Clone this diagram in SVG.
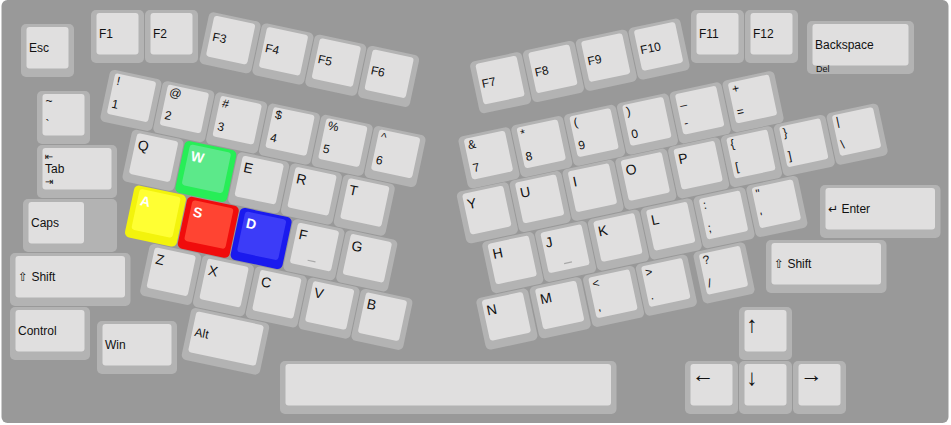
<svg xmlns="http://www.w3.org/2000/svg" width="951" height="425" viewBox="0 0 951 425">
<style>
.o{fill:#b3b3b3}
.i{fill:#e0dfdf}
text{font-family:"Liberation Sans",Arial,"DejaVu Sans",sans-serif;font-size:12px;fill:#111}
.L{font-size:14px}
.wh{fill:#ffffff;font-weight:bold}
.s{font-size:9px}
.ar{font-size:22.5px}
.sym{font-size:10px;font-family:"DejaVu Sans",sans-serif}
.nub{fill:#a8a8a8}
</style>
<defs>
<g id="k1"><rect class="o" width="53" height="53" rx="5"/><rect class="i" x="5.5" y="3" width="42" height="41.5" rx="3"/></g>
<g id="k15"><rect class="o" width="80" height="53" rx="5"/><rect class="i" x="5.5" y="3" width="69" height="41.5" rx="3"/></g>
<g id="k175s"><rect class="o" width="94" height="53" rx="5"/><rect class="i" x="5.5" y="3" width="55.5" height="41.5" rx="3"/></g>
<g id="k2"><rect class="o" width="107" height="53" rx="5"/><rect class="i" x="5.5" y="3" width="96" height="41.5" rx="3"/></g>
<g id="k225"><rect class="o" width="120.5" height="53" rx="5"/><rect class="i" x="5.5" y="3" width="109.5" height="41.5" rx="3"/></g>
<g id="k625"><rect class="o" width="336.5" height="53" rx="5"/><rect class="i" x="5.5" y="3" width="325.5" height="41.5" rx="3"/></g>
</defs>
<rect width="951" height="425" fill="#ffffff"/>
<rect id="board" x="1.5" y="0" width="947" height="423" rx="6" fill="#999999"/>

<g id="keys-fixed">
<g id="key-esc" transform="translate(21,24)"><use href="#k1"/><text x="8" y="27.5">Esc</text></g>
<g id="key-f1" transform="translate(91,10)"><use href="#k1"/><text x="8" y="27.5">F1</text></g>
<g id="key-f2" transform="translate(145,10)"><use href="#k1"/><text x="8" y="27.5">F2</text></g>
<g id="key-f11" transform="translate(691,10)"><use href="#k1"/><text x="8" y="27.5">F11</text></g>
<g id="key-f12" transform="translate(745,10)"><use href="#k1"/><text x="8" y="27.5">F12</text></g>
<g id="key-backspace" transform="translate(807,21)"><use href="#k2"/><text x="8" y="27.5">Backspace</text><text class="s" x="9" y="51">Del</text></g>
<g id="key-tilde" transform="translate(37,91)"><use href="#k1"/><text x="8.5" y="14">~</text><text x="8.5" y="37.5">`</text></g>
<g id="key-tab" transform="translate(37,145)"><use href="#k15"/><text class="sym" x="8" y="15">⇤</text><text x="8" y="27.5">Tab</text><text class="sym" x="8" y="39.5">⇥</text></g>
<g id="key-caps" transform="translate(23,199)"><use href="#k175s"/><text x="8" y="27.5">Caps</text></g>
<g id="key-lshift" transform="translate(10,253)"><use href="#k225"/><text x="8" y="27.5">⇧ Shift</text></g>
<g id="key-control" transform="translate(10,307)"><use href="#k15"/><text x="8" y="27.5">Control</text></g>
<g id="key-win" transform="translate(97,321)"><use href="#k15"/><text x="8" y="27.5">Win</text></g>
<g id="key-enter" transform="translate(820,185)"><use href="#k225"/><text x="8" y="27.5">↵ Enter</text></g>
<g id="key-rshift" transform="translate(766,240)"><use href="#k225"/><text x="8" y="27.5">⇧ Shift</text></g>
<g id="key-space" transform="translate(280,361)"><use href="#k625"/></g>
<g id="key-up" transform="translate(739,307)"><use href="#k1"/><text class="ar" x="7.3" y="24.7">↑</text></g>
<g id="key-left" transform="translate(685,361)"><use href="#k1"/><text class="ar" x="6.7" y="20.7">←</text></g>
<g id="key-down" transform="translate(739,361)"><use href="#k1"/><text class="ar" x="7.3" y="24">↓</text></g>
<g id="key-right" transform="translate(793,361)"><use href="#k1"/><text class="ar" x="7" y="20.7">→</text></g>
</g>

<g id="left-block" transform="rotate(12)">
<g id="key-f3" transform="translate(207.5,-32.5)"><use href="#k1"/><text x="8" y="28">F3</text></g>
<g id="key-f4" transform="translate(261.5,-32.5)"><use href="#k1"/><text x="8" y="28">F4</text></g>
<g id="key-f5" transform="translate(315.5,-32.5)"><use href="#k1"/><text x="8" y="28">F5</text></g>
<g id="key-f6" transform="translate(369.5,-32.5)"><use href="#k1"/><text x="8" y="28">F6</text></g>
<g id="key-1" transform="translate(122.5,44.5)"><use href="#k1"/><text x="8.5" y="14">!</text><text x="8.5" y="37.5">1</text></g>
<g id="key-2" transform="translate(176.5,44.5)"><use href="#k1"/><text x="8.5" y="14">@</text><text x="8.5" y="37.5">2</text></g>
<g id="key-3" transform="translate(230.5,44.5)"><use href="#k1"/><text x="8.5" y="14">#</text><text x="8.5" y="37.5">3</text></g>
<g id="key-4" transform="translate(284.5,44.5)"><use href="#k1"/><text x="8.5" y="14">$</text><text x="8.5" y="37.5">4</text></g>
<g id="key-5" transform="translate(338.5,44.5)"><use href="#k1"/><text x="8.5" y="14">%</text><text x="8.5" y="37.5">5</text></g>
<g id="key-6" transform="translate(392.5,44.5)"><use href="#k1"/><text x="8.5" y="14">^</text><text x="8.5" y="37.5">6</text></g>
<g id="key-q" transform="translate(156.5,98.5)"><use href="#k1"/><text class="L" x="8.6" y="19">Q</text></g>
<g id="key-w" transform="translate(210.5,98.5)"><rect width="53" height="53" rx="5" fill="#27ee57"/><rect x="5.5" y="3" width="42" height="41.5" rx="3" fill="#5ce98a"/><text class="L wh" x="8.6" y="19">W</text></g>
<g id="key-e" transform="translate(264.5,98.5)"><use href="#k1"/><text class="L" x="8.6" y="19">E</text></g>
<g id="key-r" transform="translate(318.5,98.5)"><use href="#k1"/><text class="L" x="8.6" y="19">R</text></g>
<g id="key-t" transform="translate(372.5,98.5)"><use href="#k1"/><text class="L" x="8.6" y="19">T</text></g>
<g id="key-a" transform="translate(170.5,152.5)"><rect width="53" height="53" rx="5" fill="#f3f30c"/><rect x="5.5" y="3" width="42" height="41.5" rx="3" fill="#ffff33"/><text class="L wh" x="8.6" y="19">A</text></g>
<g id="key-s" transform="translate(224.5,152.5)"><rect width="53" height="53" rx="5" fill="#f00c0c"/><rect x="5.5" y="3" width="42" height="41.5" rx="3" fill="#ff4432"/><text class="L wh" x="8.6" y="19">S</text></g>
<g id="key-d" transform="translate(278.5,152.5)"><rect width="53" height="53" rx="5" fill="#1a1aee"/><rect x="5.5" y="3" width="42" height="41.5" rx="3" fill="#3c3cf8"/><text class="L wh" x="8.6" y="19">D</text></g>
<g id="key-f" transform="translate(332.5,152.5)"><use href="#k1"/><text class="L" x="8.6" y="19">F</text><rect class="nub" x="22.5" y="37.5" width="8" height="1.2"/></g>
<g id="key-g" transform="translate(386.5,152.5)"><use href="#k1"/><text class="L" x="8.6" y="19">G</text></g>
<g id="key-z" transform="translate(197.5,206.5)"><use href="#k1"/><text class="L" x="8.6" y="19">Z</text></g>
<g id="key-x" transform="translate(251.5,206.5)"><use href="#k1"/><text class="L" x="8.6" y="19">X</text></g>
<g id="key-c" transform="translate(305.5,206.5)"><use href="#k1"/><text class="L" x="8.6" y="19">C</text></g>
<g id="key-v" transform="translate(359.5,206.5)"><use href="#k1"/><text class="L" x="8.6" y="19">V</text></g>
<g id="key-b" transform="translate(413.5,206.5)"><use href="#k1"/><text class="L" x="8.6" y="19">B</text></g>
<g id="key-alt" transform="translate(251.5,260.5)"><use href="#k15"/><text x="8" y="27.5">Alt</text></g>
</g>

<g id="right-block" transform="rotate(-12)">
<g id="key-f7" transform="translate(446,158.5)"><use href="#k1"/><text x="8" y="28">F7</text></g>
<g id="key-f8" transform="translate(500,158.5)"><use href="#k1"/><text x="8" y="28">F8</text></g>
<g id="key-f9" transform="translate(554,158.5)"><use href="#k1"/><text x="8" y="28">F9</text></g>
<g id="key-f10" transform="translate(608,158.5)"><use href="#k1"/><text x="8" y="28">F10</text></g>
<g id="key-7" transform="translate(419,229.5)"><use href="#k1"/><text x="8.5" y="14">&amp;</text><text x="8.5" y="37.5">7</text></g>
<g id="key-8" transform="translate(473,229.5)"><use href="#k1"/><text x="8.5" y="14">*</text><text x="8.5" y="37.5">8</text></g>
<g id="key-9" transform="translate(527,229.5)"><use href="#k1"/><text x="8.5" y="14">(</text><text x="8.5" y="37.5">9</text></g>
<g id="key-0" transform="translate(581,229.5)"><use href="#k1"/><text x="8.5" y="14">)</text><text x="8.5" y="37.5">0</text></g>
<g id="key-minus" transform="translate(635,229.5)"><use href="#k1"/><text x="8.5" y="14">_</text><text x="8.5" y="37.5">-</text></g>
<g id="key-equal" transform="translate(689,229.5)"><use href="#k1"/><text x="8.5" y="14">+</text><text x="8.5" y="37.5">=</text></g>
<g id="key-y" transform="translate(406,283)"><use href="#k1"/><text class="L" x="8.6" y="19">Y</text></g>
<g id="key-u" transform="translate(460,283)"><use href="#k1"/><text class="L" x="8.6" y="19">U</text></g>
<g id="key-i" transform="translate(514,283)"><use href="#k1"/><text class="L" x="8.6" y="19">I</text></g>
<g id="key-o" transform="translate(568,283)"><use href="#k1"/><text class="L" x="8.6" y="19">O</text></g>
<g id="key-p" transform="translate(622,283)"><use href="#k1"/><text class="L" x="8.6" y="19">P</text></g>
<g id="key-lbracket" transform="translate(676,283)"><use href="#k1"/><text x="8.5" y="14">{</text><text x="8.5" y="37.5">[</text></g>
<g id="key-rbracket" transform="translate(730,283)"><use href="#k1"/><text x="8.5" y="14">}</text><text x="8.5" y="37.5">]</text></g>
<g id="key-backslash" transform="translate(784,283)"><use href="#k1"/><text x="8.5" y="14">|</text><text x="8.5" y="37.5">\</text></g>
<g id="key-h" transform="translate(420.5,337)"><use href="#k1"/><text class="L" x="8.6" y="19">H</text></g>
<g id="key-j" transform="translate(474.5,337)"><use href="#k1"/><text class="L" x="8.6" y="19">J</text><rect class="nub" x="22.5" y="37.5" width="8" height="1.2"/></g>
<g id="key-k" transform="translate(528.5,337)"><use href="#k1"/><text class="L" x="8.6" y="19">K</text></g>
<g id="key-l" transform="translate(582.5,337)"><use href="#k1"/><text class="L" x="8.6" y="19">L</text></g>
<g id="key-semicolon" transform="translate(636.5,337)"><use href="#k1"/><text x="8.5" y="14">:</text><text x="8.5" y="37.5">;</text></g>
<g id="key-quote" transform="translate(690.5,337)"><use href="#k1"/><text x="8.5" y="14">"</text><text x="8.5" y="37.5">'</text></g>
<g id="key-n" transform="translate(403,391)"><use href="#k1"/><text class="L" x="8.6" y="19">N</text></g>
<g id="key-m" transform="translate(457.5,391)"><use href="#k1"/><text class="L" x="8.6" y="19">M</text></g>
<g id="key-comma" transform="translate(512,391)"><use href="#k1"/><text x="8.5" y="14">&lt;</text><text x="8.5" y="37.5">,</text></g>
<g id="key-period" transform="translate(566,391)"><use href="#k1"/><text x="8.5" y="14">&gt;</text><text x="8.5" y="37.5">.</text></g>
<g id="key-slash" transform="translate(625,391)"><use href="#k1"/><text x="8.5" y="14">?</text><text x="8.5" y="37.5">/</text></g>
</g>

<g id="connectors"/>
</svg>
